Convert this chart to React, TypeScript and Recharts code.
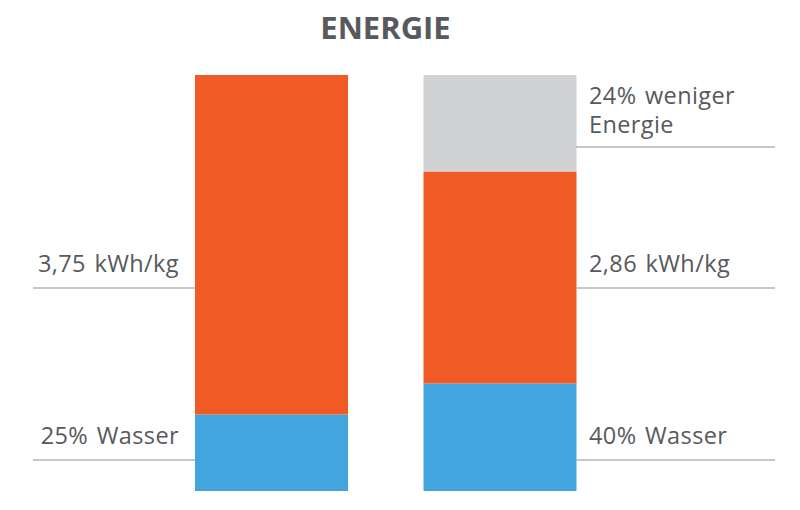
import React from 'react';
import { BarChart, Bar, XAxis, YAxis, ReferenceLine } from 'recharts';

const categories = ['vorher', 'nachher'];
const wasser = [0.69, 0.97];
const energie = [3.06, 1.91];
const eingespart = [0, 0.87];

const leftNotes = [
  { value: 1.83, lines: ['3,75 kWh/kg'] },
  { value: 0.28, lines: ['25% Wasser'] },
];
const rightNotes = [
  { value: 3.1, lines: ['24% weniger', 'Energie'] },
  { value: 1.83, lines: ['2,86 kWh/kg'] },
  { value: 0.28, lines: ['40% Wasser'] },
];

const data = categories.map((name, i) => ({
  name,
  wasser: wasser[i],
  energie: energie[i],
  eingespart: eingespart[i],
}));

const TEXT = '#58595b';
const LINE = '#b3b4b6';
const FONT = '"Open Sans", sans-serif';

// note shape: line from x1..x2 at y, text lines stacked above it
const noteShape = (side: 'left' | 'right', lines: string[]) => (props: any) => {
  const y = props.y1;
  const x1 = side === 'left' ? 33 : 576;
  const x2 = side === 'left' ? 195 : 775;
  const tx = side === 'left' ? 179 : 589;
  const gap = lines.length > 1 ? 14 : 16;
  return (
    <g>
      <line x1={x1} x2={x2} y1={y} y2={y} stroke={LINE} strokeWidth={1.5} />
      {lines.map((t, i) => (
        <text
          key={t}
          x={tx}
          y={y - gap - (lines.length - 1 - i) * 29}
          fill={TEXT}
          fontSize={23.5}
          fontWeight={500}
          fontFamily={FONT}
          textAnchor={side === 'left' ? 'end' : 'start'}
          style={{ letterSpacing: '0.4px', wordSpacing: '2px' }}
        >
          {t}
        </text>
      ))}
    </g>
  );
};

export default function App() {
  return (
    <div style={{ position: 'absolute', left: 0, top: 0, width: 800, height: 510, background: '#fff' }}>
      <div
        style={{
          position: 'absolute',
          left: 285,
          top: 5,
          width: 201,
          textAlign: 'center',
          fontFamily: FONT,
          fontWeight: 700,
          fontSize: 31,
          color: TEXT,
          lineHeight: '44px',
        }}
      >
        ENERGIE
      </div>
      <BarChart
        width={800}
        height={510}
        data={data}
        margin={{ top: 75, right: 186, left: 157, bottom: 19 }}
        barSize={153}
      >
        <XAxis dataKey="name" hide />
        <YAxis hide domain={[0, 3.75]} />
        <Bar dataKey="wasser" stackId="a" fill="#43a5dd" isAnimationActive={false} />
        <Bar dataKey="energie" stackId="a" fill="#f05a25" isAnimationActive={false} />
        <Bar dataKey="eingespart" stackId="a" fill="#d1d2d4" isAnimationActive={false} />
        {leftNotes.map((n) => (
          <ReferenceLine key={'l' + n.lines[0]} y={n.value} ifOverflow="visible" shape={noteShape('left', n.lines)} />
        ))}
        {rightNotes.map((n) => (
          <ReferenceLine key={'r' + n.lines[0]} y={n.value} ifOverflow="visible" shape={noteShape('right', n.lines)} />
        ))}
      </BarChart>
    </div>
  );
}
